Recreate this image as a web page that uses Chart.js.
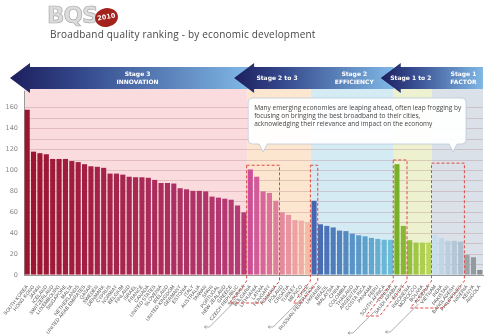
<!DOCTYPE html>
<html>
<head>
<meta charset="utf-8">
<script src="https://cdn.jsdelivr.net/npm/chart.js@4.4.1/dist/chart.umd.min.js"></script>
<style>
  html, body { margin: 0; padding: 0; background: #fff; }
  #wrap { position: relative; width: 500px; height: 336px; overflow: hidden; }
  #chart { position: absolute; left: 0; top: 0; }
  .logo { position: absolute; left: 47px; top: 2px; font: bold 23px "DejaVu Sans", sans-serif; color: #dcdcdc; letter-spacing: -1px; -webkit-text-stroke: 0.7px #a9a9a9; }
  .seal { position: absolute; left: 95px; top: 8px; width: 23px; height: 19px; border-radius: 50%; background: #a3221e; color: #fff; font: bold 6.5px "DejaVu Sans", sans-serif; text-align: center; line-height: 19px; transform: rotate(-10deg); }
  .title { position: absolute; left: 50px; top: 27px; font: 10px "Open Sans", sans-serif; color: #474747; letter-spacing: 0.2px; }
</style>
</head>
<body>
<div id="wrap">
  <canvas id="chart" width="500" height="336"></canvas>
  <div class="logo">BQS</div>
  <div class="seal">2010</div>
  <div class="title">Broadband quality ranking - by economic development</div>
</div>
<script>
// Stage 3 - innovation
const stage3Countries = ["SOUTH KOREA", "HONG KONG", "JAPAN", "ICELAND", "SWITZERLAND", "LUXEMBOURG", "SINGAPORE", "MALTA",
  "NETHERLANDS", "UNITED ARAB EMIRATES", "QATAR", "SWEDEN", "DENMARK", "CYPRUS", "NORWAY", "BELGIUM", "FINLAND",
  "ISRAEL", "FRANCE", "CANADA", "UNITED STATES", "SLOVENIA", "IRELAND", "UNITED KINGDOM", "GERMANY", "ESTONIA",
  "ITALY", "AUSTRALIA", "TAIWAN", "SPAIN", "PORTUGAL", "NEW ZEALAND", "GREECE", "CZECH REPUBLIC", "SLOVAKIA"];
const stage3Scores = [158, 118, 116.5, 115.5, 111, 111, 111, 109, 108, 106, 104, 103.5, 102.5, 97, 97, 96, 94,
  93.5, 93.5, 93, 91, 88, 88, 87.5, 83, 82, 80.5, 80.5, 80, 75, 74, 73, 72, 66.5, 60];

// Stage 2 to 3
const stage23Countries = ["BULGARIA", "LITHUANIA", "LATVIA", "HUNGARY", "ROMANIA", "POLAND", "CROATIA", "TURKEY", "MEXICO", "CHILE"];
const stage23Scores = [101, 94, 80, 78.5, 71, 60, 57.5, 52.5, 52, 50];

// Stage 2 - efficiency
const stage2Countries = ["RUSSIAN FEDERATION", "UKRAINE", "BRAZIL", "MALAYSIA", "CHINA", "COLOMBIA", "THAILAND",
  "ARGENTINA", "COSTA RICA", "PANAMA", "PERU", "SOUTH AFRICA", "TUNISIA"];
const stage2Scores = [71, 48.5, 47, 45.5, 42.5, 42, 39.5, 38, 37, 35.5, 34.5, 33.7, 33.7];

// Stage 1 to 2
const stage12Countries = ["SAUDI ARABIA", "EGYPT", "INDONESIA", "MOROCCO", "BOLIVIA", "ALGERIA"];
const stage12Scores = [106, 47, 33.3, 31, 31, 31];

// Stage 1 - factor
const stage1Countries = ["VIETNAM", "INDIA", "PAKISTAN", "BANGLADESH", "PHILIPPINES", "NIGERIA", "KENYA", "ANGOLA"];
const stage1Scores = [38.5, 35.3, 32.7, 32.7, 32, 19.2, 17, 4.8];

const yTicks = [0, 20, 40, 60, 80, 100, 120, 140, 160];

const labels = [].concat(stage3Countries, stage23Countries, stage2Countries, stage12Countries, stage1Countries);
const scores = [].concat(stage3Scores, stage23Scores, stage2Scores, stage12Scores, stage1Scores);

// first bar index of each stage, plus the end
const stageStarts = [0, 35, 45, 58, 64, 72];
const bandColors = ['#fadcde', '#fde6cf', '#d4ebf4', '#edf1cf', '#dbe1e9'];

function hexToRgb(h) {
  const n = parseInt(h.slice(1), 16);
  return [(n >> 16) & 255, (n >> 8) & 255, n & 255];
}
function mix(a, b, t) {
  const c1 = hexToRgb(a), c2 = hexToRgb(b);
  return 'rgb(' + c1.map((v, i) => Math.round(v + (c2[i] - v) * t)).join(',') + ')';
}
function shades(n, from, to) {
  return Array.from({ length: n }, (_, i) => mix(from, to, n === 1 ? 0 : i / (n - 1)));
}

const barColors = [].concat(
  shades(35, '#9b1530', '#b63c78'),
  shades(10, '#cd4f98', '#f6b8a7'),
  shades(13, '#4566b0', '#6cbdd9'),
  shades(6, '#78b02a', '#bad65a'),
  shades(5, '#c3dff0', '#aebfcd'),
  shades(3, '#9ea3a8', '#8a8f94')
);

// dashed highlight groups: first bar, last bar, top value, depth of label area
const highlights = [
  { from: 35, to: 39, top: 105, depth: 22 },
  { from: 45, to: 45, top: 105, depth: 22 },
  { from: 58, to: 59, top: 110, depth: 35 },
  { from: 64, to: 68, top: 107, depth: 27 }
];

function edge(x, i, area) {
  if (i <= 0) return area.left;
  if (i >= labels.length) return area.right;
  return (x.getPixelForValue(i - 1) + x.getPixelForValue(i)) / 2;
}

function drawArrow(ctx, tipX, endX, midY) {
  const headW = 20, bodyH = 11, headH = 15;
  const g = ctx.createLinearGradient(tipX, 0, endX, 0);
  g.addColorStop(0, '#1d1f5e');
  g.addColorStop(0.3, '#34498c');
  g.addColorStop(1, '#80b8e6');
  ctx.beginPath();
  ctx.moveTo(tipX, midY);
  ctx.lineTo(tipX + headW, midY - headH);
  ctx.lineTo(tipX + headW, midY - bodyH);
  ctx.lineTo(endX, midY - bodyH);
  ctx.lineTo(endX, midY + bodyH);
  ctx.lineTo(tipX + headW, midY + bodyH);
  ctx.lineTo(tipX + headW, midY + headH);
  ctx.closePath();
  ctx.fillStyle = g;
  ctx.fill();
}

function stageText(ctx, lines, cx, midY) {
  ctx.fillStyle = '#fff';
  ctx.font = 'bold 6px "DejaVu Sans", sans-serif';
  ctx.textAlign = 'center';
  ctx.textBaseline = 'middle';
  const start = midY - (lines.length - 1) * 4;
  lines.forEach((t, i) => ctx.fillText(t, cx, start + i * 8));
}

const bandsPlugin = {
  id: 'bands',
  beforeDraw(chart) {
    const { ctx, chartArea: a, scales: { x } } = chart;
    ctx.save();
    for (let s = 0; s < 5; s++) {
      const l = edge(x, stageStarts[s], a), r = edge(x, stageStarts[s + 1], a);
      ctx.fillStyle = bandColors[s];
      ctx.fillRect(l, a.top - 2, r - l, a.bottom - a.top + 2);
    }
    ctx.restore();
  },
  afterDraw(chart) {
    const { ctx, chartArea: a, scales: { x, y } } = chart;
    const b = stageStarts.map(i => edge(x, i, a));
    const midY = a.top - 13;
    ctx.save();

    // stage banner
    drawArrow(ctx, 10, b[1] + 2, midY);
    drawArrow(ctx, b[1] - 13, b[3], midY);
    drawArrow(ctx, b[3] - 13, a.right, midY);
    stageText(ctx, ['Stage 3', 'INNOVATION'], (a.left + b[1]) / 2 + 2, midY);
    stageText(ctx, ['Stage 2 to 3'], (b[1] + b[2]) / 2 - 2, midY);
    stageText(ctx, ['Stage 2', 'EFFICIENCY'], (b[2] + b[3]) / 2 + 2, midY);
    stageText(ctx, ['Stage 1 to 2'], (b[3] + b[4]) / 2 - 2, midY);
    stageText(ctx, ['Stage 1', 'FACTOR'], (b[4] + b[5]) / 2 + 6, midY);

    // callout
    const cl = b[1] + 1, cr = x.getPixelForValue(69) - 1, ct = a.top + 7, cb = a.top + 53;
    const p1 = cl + 15, p2 = cr - 13;
    ctx.beginPath();
    ctx.moveTo(cl + 5, ct);
    ctx.lineTo(cr - 5, ct);
    ctx.quadraticCurveTo(cr, ct, cr, ct + 5);
    ctx.lineTo(cr, cb - 5);
    ctx.quadraticCurveTo(cr, cb, cr - 5, cb);
    ctx.lineTo(p2 + 4, cb);
    ctx.lineTo(p2, cb + 8);
    ctx.lineTo(p2 - 4, cb);
    ctx.lineTo(p1 + 4, cb);
    ctx.lineTo(p1, cb + 8);
    ctx.lineTo(p1 - 4, cb);
    ctx.lineTo(cl + 5, cb);
    ctx.quadraticCurveTo(cl, cb, cl, cb - 5);
    ctx.lineTo(cl, ct + 5);
    ctx.quadraticCurveTo(cl, ct, cl + 5, ct);
    ctx.closePath();
    ctx.fillStyle = 'rgba(255,255,255,0.95)';
    ctx.fill();
    ctx.strokeStyle = '#b9c9d8';
    ctx.lineWidth = 0.8;
    ctx.stroke();
    ctx.fillStyle = '#444';
    ctx.font = '6.5px "Open Sans", sans-serif';
    ctx.textAlign = 'left';
    ctx.textBaseline = 'middle';
    ['Many emerging economies are leaping ahead, often leap frogging by',
     'focusing on bringing the best broadband to their cities,',
     'acknowledging their relevance and impact on the economy'
    ].forEach((t, i) => ctx.fillText(t, cl + 6, ct + 10 + i * 8));

    // dashed highlight boxes and leader lines
    const slope = Math.tan(52 * Math.PI / 180);
    highlights.forEach(h => {
      const half = (x.getPixelForValue(1) - x.getPixelForValue(0)) / 2;
      const l = x.getPixelForValue(h.from) - half - 0.5;
      const r = x.getPixelForValue(h.to) + half + 0.5;
      const t = y.getPixelForValue(h.top);
      const base = a.bottom + 6, bot = base + h.depth, dx = h.depth / slope;
      ctx.beginPath();
      ctx.moveTo(l, t);
      ctx.lineTo(r, t);
      ctx.lineTo(r, base);
      ctx.lineTo(r - dx, bot);
      ctx.lineTo(l - dx, bot);
      ctx.lineTo(l, base);
      ctx.closePath();
      ctx.setLineDash([3, 2]);
      ctx.strokeStyle = '#dc4a44';
      ctx.lineWidth = 1;
      ctx.stroke();
      ctx.setLineDash([]);

      const sx = l - dx + 8, sy = bot - 4;
      const ey = Math.min(sy + 28, 333), ex = sx - (ey - sy);
      ctx.beginPath();
      ctx.moveTo(sx, sy);
      ctx.lineTo(ex, ey);
      ctx.lineTo(ex - 5, ey);
      ctx.moveTo(ex - 3, ey - 1.5);
      ctx.lineTo(ex - 5, ey);
      ctx.lineTo(ex - 3, ey + 1.5);
      ctx.strokeStyle = '#8a8a8a';
      ctx.lineWidth = 0.7;
      ctx.stroke();
    });
    ctx.restore();
  }
};

new Chart(document.getElementById('chart'), {
  type: 'bar',
  data: {
    labels: labels,
    datasets: [{
      data: scores,
      backgroundColor: barColors,
      borderWidth: 0,
      barPercentage: 0.8,
      categoryPercentage: 1
    }]
  },
  options: {
    responsive: false,
    animation: false,
    layout: { padding: { top: 91, right: 17, left: 0, bottom: 0 } },
    plugins: { legend: { display: false }, tooltip: { enabled: false } },
    scales: {
      x: {
        afterFit: (s) => { s.height = 61; },
        grid: { display: false },
        border: { color: '#9a9a9a' },
        ticks: {
          autoSkip: false,
          minRotation: 52,
          maxRotation: 52,
          padding: 1,
          color: '#555',
          font: { family: '"Liberation Sans", sans-serif', size: 5 }
        }
      },
      y: {
        min: 0,
        max: 176,
        afterFit: (s) => { s.width = 24; },
        border: { color: '#9a9a9a' },
        grid: {
          drawTicks: false,
          color: (c) => (c.tick && c.tick.value % 10 === 0 && c.tick.value > 0) ? 'rgba(170,120,130,0.3)' : 'transparent'
        },
        ticks: {
          stepSize: 10,
          padding: 6,
          color: '#888',
          font: { family: '"DejaVu Sans", sans-serif', size: 6.5 },
          callback: (v) => yTicks.includes(v) ? v : ''
        }
      }
    }
  },
  plugins: [bandsPlugin]
});
</script>
</body>
</html>
